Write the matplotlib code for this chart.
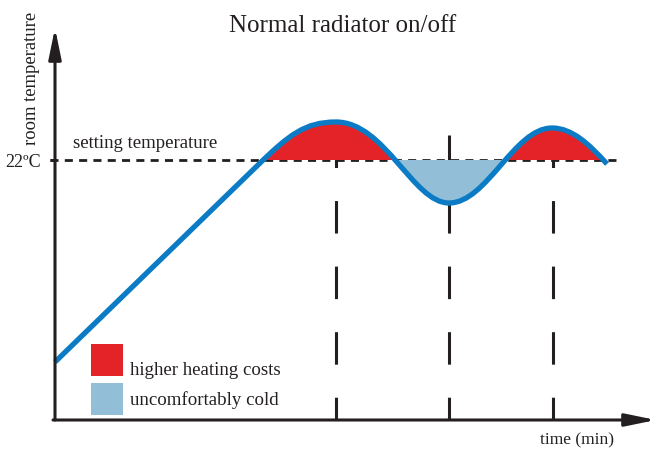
import matplotlib
matplotlib.use("Agg")
import matplotlib.pyplot as plt
from matplotlib.path import Path
from matplotlib.patches import PathPatch, Rectangle

plt.rcParams['font.family'] = ['Liberation Serif', 'DejaVu Serif']
plt.rcParams['lines.scale_dashes'] = False

INK = '#231f20'
RED = '#e42328'
COLD = '#92bfd7'
CURVE = '#0a7bc4'

# chart units: time in minutes, temperature in degC
setpoint = 22.0
switch_times = [28.1, 39.4, 49.8]          # radiator switches (vertical dashed)
t_min, t_max = 0.0, 60.1
T_min, T_max = 9.0, 28.6

# room temperature curve: ramp, then on/off swings (bezier anchors + handles)
curve_t = [0.0, 20.4,
           23.4, 25.0, 28.1,
           33.0, 35.8, 39.4,
           43.2, 45.9, 49.7,
           51.7, 53.4, 55.2]
curve_T = [11.9, 21.8,
           23.25, 23.9, 23.9,
           23.9, 19.85, 19.85,
           19.85, 23.6, 23.6,
           23.6, 22.8, 21.8]
curve_codes = [Path.MOVETO, Path.LINETO] + [Path.CURVE4] * 12

legend_labels = ['higher heating costs', 'uncomfortably cold']

fig = plt.figure(figsize=(6.57, 4.53), dpi=100)
ax = fig.add_axes([0, 0, 1, 1])
ax.set_xlim(-5.5, 60.2)
ax.set_ylim(7.35, 30)
ax.axis('off')

# vertical dashed lines at switching times (pattern starts at top)
for ts in switch_times:
    ax.plot([ts, ts], [23.25, T_min], color=INK, lw=2.2,
            linestyle=(0, (23.4, 23.8)), solid_capstyle='butt',
            dash_capstyle='butt', zorder=1)

# setpoint line
ax.plot([-0.5, 56.3], [setpoint, setpoint], color=INK, lw=2.0,
        linestyle=(0, (5.8, 4.5)), dash_capstyle='butt', zorder=1.5)
ax.plot([-0.5, 0], [setpoint, setpoint], color=INK, lw=2.0,
        solid_capstyle='butt', zorder=1.5)

# fills between curve and setpoint
fill_verts = list(zip(curve_t[1:], curve_T[1:]))
fill_verts += [(curve_t[-1], setpoint), (curve_t[1], setpoint), (curve_t[1], curve_T[1])]
fill_codes = [Path.MOVETO] + [Path.CURVE4] * 12 + [Path.LINETO, Path.LINETO, Path.CLOSEPOLY]
fill_path = Path(fill_verts, fill_codes)

hot = PathPatch(fill_path, facecolor=RED, edgecolor='none', zorder=2)
ax.add_patch(hot)
hot_clip = Rectangle((t_min, setpoint), t_max, 10, transform=ax.transData)
hot.set_clip_path(hot_clip)

cold = PathPatch(fill_path, facecolor=COLD, edgecolor='none', zorder=2)
ax.add_patch(cold)
cold_clip = Rectangle((30, setpoint - 10), 18, 10, transform=ax.transData)
cold.set_clip_path(cold_clip)

# temperature curve
curve = PathPatch(Path(list(zip(curve_t, curve_T)), curve_codes), facecolor='none',
                  edgecolor=CURVE, lw=3.8, capstyle='butt', zorder=3)
ax.add_patch(curve)

# axes with arrows
arrow = dict(arrowstyle='-|>,head_length=1.85,head_width=0.38', color=INK, lw=2.2,
             shrinkA=0, shrinkB=0, mutation_scale=10)
ax.annotate('', xy=(t_min, T_max), xytext=(t_min, T_min), arrowprops=arrow, zorder=4)
ax.annotate('', xy=(t_max, T_min), xytext=(-0.2, T_min), arrowprops=arrow, zorder=4)

# texts
ax.text(28.8, 28.4, 'Normal radiator on/off', fontsize=18, color=INK, ha='center', va='baseline')
ax.text(-2.3, 26.1, 'room temperature', fontsize=13.4, color=INK, rotation=90,
        ha='center', va='center')
ax.text(-5.0, setpoint - 0.35, '22ºC', fontsize=13, color=INK, ha='left', va='baseline')
ax.text(1.8, 22.6, 'setting temperature', fontsize=13.5, color=INK, ha='left', va='baseline')
ax.text(48.5, 7.8, 'time (min)', fontsize=12.5, color=INK, ha='left', va='baseline')

# legend
box_bottoms = [11.2, 9.25]
text_baselines = [11.25, 9.75]
for lab, col, yb, yt in zip(legend_labels, [RED, COLD], box_bottoms, text_baselines):
    ax.add_patch(Rectangle((3.6, yb), 3.2, 1.6, facecolor=col, edgecolor='none'))
    ax.text(7.5, yt, lab, fontsize=13.6, color=INK, ha='left', va='baseline')

fig.savefig('out.png', dpi=100)
